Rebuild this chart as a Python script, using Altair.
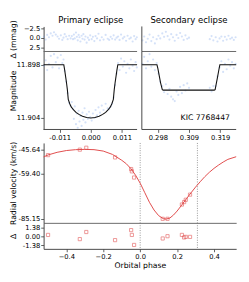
import altair as alt
import pandas as pd

# ---------------- data ----------------
# Primary eclipse photometry: phase, magnitude, residual (mmag)
pri_phase = [-0.0158, -0.0152, -0.0147, -0.0141, -0.0135, -0.0129, -0.0124, -0.0118, -0.0112, -0.0107, -0.0101, -0.0096, -0.0092,
             -0.0088, -0.0083, -0.0078, -0.0073, -0.0068,
             -0.0064, -0.0060, -0.0057, -0.0054, -0.0050, -0.0047, -0.0044, -0.0041, -0.0038, -0.0035,
             -0.0031, -0.0028, -0.0025, -0.0021, -0.0018, -0.0014, -0.0010, -0.0006, -0.0002, 0.0003,
             0.0007, 0.0012, 0.0016, 0.0021, 0.0026, 0.0031, 0.0037, 0.0043, 0.0050, 0.0057,
             0.0062, 0.0067, 0.0072, 0.0077, 0.0082, 0.0087,
             0.0092, 0.0097, 0.0102, 0.0108, 0.0113, 0.0119, 0.0124, 0.0130, 0.0135, 0.0141, 0.0146, 0.0151, 0.0155]
pri_mag = [11.8981, 11.8975, 11.8986, 11.8979, 11.8970, 11.8983, 11.8968, 11.8977, 11.8972, 11.8984, 11.8969, 11.8978, 11.8974,
           11.8987, 11.8999, 11.9012, 11.9023, 11.9026,
           11.9022, 11.9030, 11.9041, 11.9027, 11.9047, 11.9035, 11.9051, 11.9032, 11.9044, 11.9038,
           11.9049, 11.9034, 11.9042, 11.9029, 11.9045, 11.9036, 11.9041, 11.9033, 11.9039, 11.9043,
           11.9035, 11.9040, 11.9031, 11.9037, 11.9028, 11.9034, 11.9026, 11.9031, 11.9024, 11.9029,
           11.9030, 11.9027, 11.9024, 11.9017, 11.9003, 11.8990,
           11.8978, 11.8986, 11.8973, 11.8982, 11.8976, 11.8989, 11.8979, 11.8984, 11.8974, 11.8981, 11.8987, 11.8977, 11.8983]
pri_res = [-0.3, 0.4, -0.8, -0.2, -1.2, -0.6, -1.5, -0.9, -0.4, 0.2, -0.7, 0.5, -0.1,
           -1.0, -0.4, 0.3, -0.6, 0.1,
           -0.5, 0.3, -0.9, 0.1, -1.4, -0.3, 0.6, -0.8, -0.2, 0.9,
           -0.6, 0.2, -1.0, 0.4, -0.4, 1.2, -0.1, 0.5, -0.7, 0.3,
           -0.3, 0.8, -0.5, 0.1, -1.1, 0.6, -0.2, 0.4, -0.8, 0.2,
           0.5, -0.3, 0.2, -0.7, 0.4, -0.1,
           -0.4, 0.5, -0.9, 0.1, -0.3, 0.7, -0.6, 0.2, -0.1, 0.9, -0.5, 0.3, -0.2]

# Secondary eclipse photometry
sec_phase = [0.2933, 0.2939, 0.2945, 0.2951, 0.2957, 0.2963, 0.2969, 0.2975, 0.2981,
             0.2987, 0.2993,
             0.3000, 0.3006, 0.3012, 0.3018, 0.3024, 0.3030, 0.3036, 0.3042,
             0.3048, 0.3054, 0.3060, 0.3066, 0.3072, 0.3078, 0.3084, 0.3090,
             0.3160, 0.3166, 0.3172,
             0.3180, 0.3186,
             0.3193, 0.3199, 0.3205, 0.3211, 0.3217, 0.3223, 0.3229, 0.3235, 0.3241, 0.3247]
sec_mag = [11.8979, 11.8971, 11.8984, 11.8976, 11.8968, 11.8982, 11.8974, 11.8986, 11.8978,
           11.8990, 11.8999,
           11.9004, 11.9011, 11.9002, 11.9013, 11.9007, 11.9016, 11.9019, 11.9021,
           11.9010, 11.9014, 11.9005, 11.9012, 11.9003, 11.9009, 11.9001, 11.9006,
           11.9006, 11.9010, 11.9004,
           11.9004, 11.8993,
           11.8983, 11.8976, 11.8988, 11.8979, 11.8985, 11.8974, 11.8981, 11.8977, 11.8984, 11.8979]
sec_res = [0.6, -0.4, 1.1, 0.2, -0.9, 0.8, -0.2, 1.4, 0.3,
           -0.6, 0.1,
           -1.2, -0.3, -1.6, -0.5, 0.4, -1.0, -0.2, 0.7,
           -0.8, 0.0, -1.3, -0.4, 0.5, -0.7, 0.2, -0.1,
           0.3, -0.5, 0.6,
           -0.2, 0.9,
           0.1, -0.4, 0.7, -0.3, 0.4, -0.6, 0.2, -0.1, 0.5, -0.2]

# Light-curve models
pri_model_phase = [-0.0159, -0.0091, -0.0088, -0.0085, -0.0082, -0.0079, -0.0076, -0.0071, -0.0066, -0.0058,
                   -0.0050, -0.0040, -0.0028, -0.0014, 0.0000, 0.0014, 0.0028, 0.0040, 0.0050, 0.0058,
                   0.0066, 0.0071, 0.0076, 0.0079, 0.0082, 0.0085, 0.0088, 0.0091, 0.0156]
pri_model_mag = [11.8980, 11.8980, 11.8986, 11.8993, 11.9000, 11.9008, 11.9019, 11.9024, 11.90275, 11.9031,
                 11.90337, 11.9036, 11.9038, 11.90395, 11.9040, 11.90395, 11.9038, 11.9036, 11.90337, 11.9031,
                 11.90275, 11.9024, 11.9019, 11.9008, 11.9000, 11.8993, 11.8986, 11.8980, 11.8980]
sec_model_phase = [0.2931, 0.2982, 0.2985, 0.2994, 0.3000, 0.3003, 0.3175, 0.3178, 0.3185, 0.3191, 0.3194, 0.3249]
sec_model_mag = [11.8980, 11.8980, 11.8984, 11.9000, 11.9008, 11.90086, 11.90086, 11.9008, 11.8996, 11.8985, 11.8980, 11.8980]

# Radial velocities
rv_phase = [-0.499, -0.327, -0.292, -0.136, -0.049, -0.045, -0.033, 0.122, 0.148, 0.226, 0.238, 0.247, 0.270]
rv_obs = [-48.9, -45.8, -44.7, -50.2, -56.8, -58.1, -61.6, -85.0, -85.0, -76.9, -75.5, -74.2, -71.3]
rv_res = [0.25, -0.41, 0.71, -0.57, 1.01, 0.25, -1.33, -0.31, 0.05, 0.25, -0.15, -0.06, -0.06]
rv_model_phase = [-0.523, -0.499, -0.45, -0.40, -0.35, -0.30, -0.25, -0.20, -0.15, -0.10, -0.075, -0.05, -0.025,
                  0.0, 0.025, 0.05, 0.075, 0.10, 0.125, 0.14, 0.16, 0.18, 0.20, 0.225, 0.25, 0.275, 0.30,
                  0.325, 0.35, 0.375, 0.40, 0.425, 0.45, 0.475, 0.52]
rv_model = [-49.9, -48.8, -47.3, -46.3, -45.8, -45.64, -45.8, -46.6, -48.5, -51.8, -53.8, -56.6, -60.3,
            -64.8, -70.2, -75.6, -80.0, -83.2, -84.9, -85.15, -84.6, -82.9, -80.6, -77.2, -73.7, -70.3, -67.0,
            -64.0, -61.1, -58.6, -56.4, -54.5, -52.8, -51.3, -49.8]
eclipse_phases = [0.0, 0.31]

# Ticks and labels
res_ticks = [-2.5, 0.0, 2.5]
res_tick_labels = ["−2.5", "0.0", "2.5"]
mag_ticks = [11.898, 11.904]
mag_tick_labels = ["11.898", "11.904"]
pri_ticks = [-0.0105, 0.0, 0.0105]
pri_tick_labels = ["-0.011", "0.000", "0.011"]
sec_ticks = [0.2985, 0.309, 0.3195]
sec_tick_labels = ["0.298", "0.309", "0.319"]
rv_ticks = [-45.64, -59.40, -85.15]
rv_tick_labels = ["-45.64", "-59.40", "-85.15"]
rvres_ticks = [1.38, 0.0, -1.38]
rvres_tick_labels = ["1.38", "0.00", "-1.38"]
phase_ticks = [-0.4, -0.2, 0.0, 0.2, 0.4]
phase_tick_labels = ["−0.4", "−0.2", "0.0", "0.2", "0.4"]

# ---------------- layout / style ----------------
FONT = "DejaVu Sans"
BLUE = "#6f9be8"
RED = "#e04848"
AXC = "#444444"
DIV = "#666666"

PRI_DOM = (-0.0159, 0.0156)
SEC_DOM = (0.2931, 0.3249)
GAP = 0.0016
RES_DOM = [-3.0, 3.5]
MAG_DOM = [11.8965, 11.9053]
PH_DOM = [-0.523, 0.52]
RV_DOM = [-87.3, -42.0]
RVRES_DOM = [-1.95, 2.15]


def u_pri(p):
    return p - PRI_DOM[0]


def u_sec(s):
    return s - SEC_DOM[0] + (PRI_DOM[1] - PRI_DOM[0]) + GAP


PRI_END = u_pri(PRI_DOM[1])
SEC_START = u_sec(SEC_DOM[0])
U_MAX = u_sec(SEC_DOM[1])


def label_expr(vals, labels):
    pairs = sorted(zip(vals, labels))
    expr = "'" + pairs[-1][1] + "'"
    for i in range(len(pairs) - 2, -1, -1):
        mid = (pairs[i][0] + pairs[i + 1][0]) / 2
        expr = f"datum.value < {mid} ? '{pairs[i][1]}' : ({expr})"
    return expr


yax = dict(minExtent=25, maxExtent=25, titlePadding=2)

# ---------- Row A: photometric residuals ----------
xA = alt.X("u:Q", scale=alt.Scale(domain=[0, U_MAX], nice=False, zero=False), axis=None)
yA = alt.Y("r:Q", scale=alt.Scale(domain=RES_DOM, reverse=True, nice=False, zero=False),
           axis=alt.Axis(values=res_ticks, labelExpr=label_expr(res_ticks, res_tick_labels),
                         title="Δ (mmag)", **yax))
resA = pd.DataFrame({"u": [u_pri(p) for p in pri_phase] + [u_sec(s) for s in sec_phase],
                     "r": pri_res + sec_res})
ptsA = alt.Chart(resA).mark_circle(size=5, color=BLUE, opacity=0.3).encode(x=xA, y=yA)
divA = alt.Chart(pd.DataFrame({"u": [0, SEC_START], "u2": [PRI_END, U_MAX], "r": [RES_DOM[1]] * 2})
                 ).mark_rule(color=DIV, strokeWidth=1).encode(x=xA, x2="u2", y=yA)
spA = alt.Chart(pd.DataFrame({"u": [SEC_START]})).mark_rule(color=AXC, strokeWidth=1).encode(x=xA)
ttlA = alt.Chart(pd.DataFrame({"u": [u_pri(0.0), u_sec(0.309)],
                               "t": ["Primary eclipse", "Secondary eclipse"]})
                 ).mark_text(font=FONT, fontSize=8.8, baseline="alphabetic", color="black"
                 ).encode(x=xA, y=alt.value(-4), text="t:N")
rowA = alt.layer(ptsA, divA, spA, ttlA).properties(width=200, height=26)

# ---------- Row B: magnitudes ----------
xB = alt.X("u:Q", scale=alt.Scale(domain=[0, U_MAX], nice=False, zero=False),
           axis=alt.Axis(values=[u_pri(v) for v in pri_ticks] + [u_sec(v) for v in sec_ticks],
                         labelExpr=label_expr([u_pri(v) for v in pri_ticks] + [u_sec(v) for v in sec_ticks],
                                              pri_tick_labels + sec_tick_labels),
                         domain=False, title=None))
yB = alt.Y("m:Q", scale=alt.Scale(domain=MAG_DOM, reverse=True, nice=False, zero=False),
           axis=alt.Axis(values=mag_ticks, labelExpr=label_expr(mag_ticks, mag_tick_labels),
                         title="Magnitude", **yax))
magB = pd.DataFrame({"u": [u_pri(p) for p in pri_phase] + [u_sec(s) for s in sec_phase],
                     "m": pri_mag + sec_mag})
modB = pd.DataFrame({"u": [u_pri(p) for p in pri_model_phase] + [u_sec(s) for s in sec_model_phase],
                     "m": pri_model_mag + sec_model_mag,
                     "g": ["p"] * len(pri_model_phase) + ["s"] * len(sec_model_phase)})
ptsB = alt.Chart(magB).mark_circle(size=5, color=BLUE, opacity=0.3).encode(x=xB, y=yB)
lineB = alt.Chart(modB).mark_line(color="#111111", strokeWidth=1.1).encode(x=xB, y=yB, detail="g:N")
botB = alt.Chart(pd.DataFrame({"u": [0, SEC_START], "u2": [PRI_END, U_MAX], "m": [MAG_DOM[1]] * 2})
                 ).mark_rule(color=AXC, strokeWidth=1).encode(x=xB, x2="u2", y=yB)
spB = alt.Chart(pd.DataFrame({"u": [SEC_START]})).mark_rule(color=AXC, strokeWidth=1).encode(x=xB)
kic = alt.Chart(pd.DataFrame({"u": [u_sec(0.3228)], "m": [11.9040], "t": ["KIC 7768447"]})
                ).mark_text(font=FONT, fontSize=8, align="right", baseline="middle", color="black"
                ).encode(x=xB, y=yB, text="t:N")
rowB = alt.layer(ptsB, lineB, botB, spB, kic).properties(width=200, height=81)

# ---------- spacer ----------
spacer = alt.Chart(pd.DataFrame({"v": [0]})).mark_point(opacity=0).encode(
    x=alt.value(0), y=alt.value(0)).properties(width=200, height=14)

# ---------- Row C: radial velocities ----------
xC = alt.X("ph:Q", scale=alt.Scale(domain=PH_DOM, nice=False, zero=False),
           axis=alt.Axis(labels=False, ticks=False, title=None, domainColor=DIV))
yC = alt.Y("v:Q", scale=alt.Scale(domain=RV_DOM, nice=False, zero=False),
           axis=alt.Axis(values=rv_ticks, labelExpr=label_expr(rv_ticks, rv_tick_labels),
                         title="Radial velocity (km/s)", **yax))
vlineC = alt.Chart(pd.DataFrame({"ph": eclipse_phases})).mark_rule(
    color="#777777", strokeWidth=0.8, strokeDash=[1, 1.5]).encode(x=xC)
curveC = alt.Chart(pd.DataFrame({"ph": rv_model_phase, "v": rv_model})).mark_line(
    color=RED, strokeWidth=1.0).encode(x=xC, y=yC)
ptsC = alt.Chart(pd.DataFrame({"ph": rv_phase, "v": rv_obs})).mark_point(
    shape="square", size=11, filled=False, color=RED, strokeWidth=0.8).encode(x=xC, y=yC)
rowC = alt.layer(vlineC, curveC, ptsC).properties(width=200, height=83)

# ---------- Row D: RV residuals ----------
xD = alt.X("ph:Q", scale=alt.Scale(domain=PH_DOM, nice=False, zero=False),
           axis=alt.Axis(values=phase_ticks, labelExpr=label_expr(phase_ticks, phase_tick_labels),
                         title="Orbital phase", titlePadding=2))
yD = alt.Y("d:Q", scale=alt.Scale(domain=RVRES_DOM, nice=False, zero=False),
           axis=alt.Axis(values=rvres_ticks, labelExpr=label_expr(rvres_ticks, rvres_tick_labels),
                         title="Δ", **yax))
vlineD = alt.Chart(pd.DataFrame({"ph": eclipse_phases})).mark_rule(
    color="#777777", strokeWidth=0.8, strokeDash=[1, 1.5]).encode(x=xD)
ptsD = alt.Chart(pd.DataFrame({"ph": rv_phase, "d": rv_res})).mark_point(
    shape="square", size=11, filled=False, color=RED, strokeWidth=0.8).encode(x=xD, y=yD)
rowD = alt.layer(vlineD, ptsD).properties(width=200, height=27)

chart = alt.vconcat(rowA, rowB, spacer, rowC, rowD, spacing=0, bounds="flush").properties(
    padding={"left": 2, "top": 3, "right": 2, "bottom": 2}
).configure_view(stroke=None).configure_axis(
    labelFont=FONT, labelFontSize=7, labelColor="black", labelPadding=1,
    tickColor="#333333", tickSize=3, tickWidth=0.8,
    domainColor=AXC, domainWidth=1, grid=False,
    titleFont=FONT, titleFontSize=8, titleFontWeight="normal", titleColor="black"
)

chart.save("out.html", embed_options={"renderer": "svg", "actions": False})
